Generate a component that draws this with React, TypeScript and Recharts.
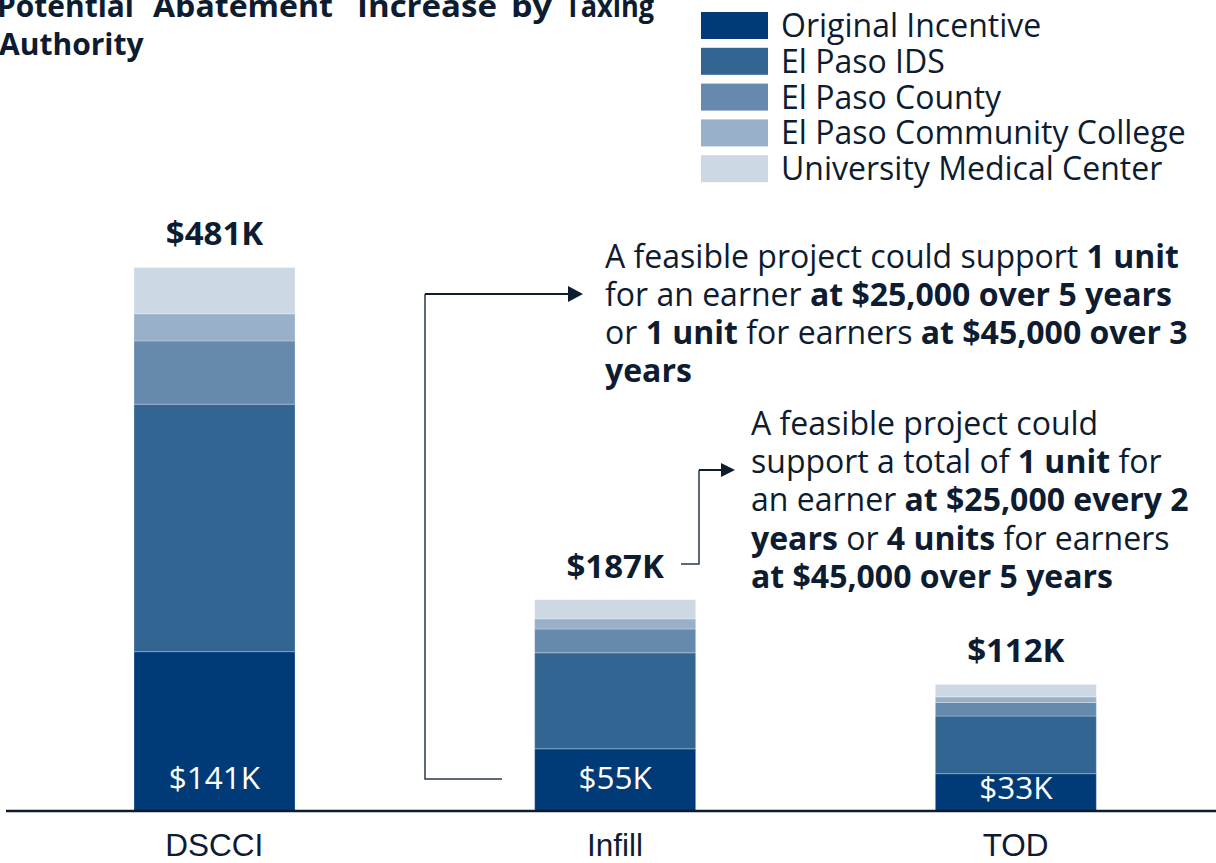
import React from "react";
import { BarChart, Bar, XAxis, YAxis, LabelList } from "recharts";

const categories = ["DSCCI", "Infill", "TOD"];
const originalIncentive = [141, 55, 33];
const elPasoIDS = [219, 85, 51];
const elPasoCounty = [56, 21, 12];
const communityCollege = [24, 9, 5];
const medicalCenter = [41, 17, 11];
const totalLabels = ["$481K", "$187K", "$112K"];
const baseLabels = ["$141K", "$55K", "$33K"];

const seriesNames = [
  "Original Incentive",
  "El Paso IDS",
  "El Paso County",
  "El Paso Community College",
  "University Medical Center",
];
const seriesColors = ["#003b78", "#336593", "#6689ae", "#99b0c9", "#ccd8e4"];

// title words are spread out (justified) in the original
const titleWords = ["Potential", "Abatement", "Increase", "by", "Taxing"];
const titleWordX = [-3, 153, 357, 511, 565];
const titleWordW = [137, 180, 140, 41, 89];

const INK = "#0d1c30";
const FONT = "'Open Sans', sans-serif";

const data = categories.map((name, i) => ({
  name,
  orig: originalIncentive[i],
  ids: elPasoIDS[i],
  county: elPasoCounty[i],
  college: communityCollege[i],
  umc: medicalCenter[i],
  total: totalLabels[i],
  base: baseLabels[i],
}));
const keys = ["orig", "ids", "county", "college", "umc"];

const TotalLabel = (p: any) => {
  const { x, y, width, value } = p;
  return (
    <text x={x + width / 2} y={y - 22} textAnchor="middle" fontFamily={FONT}
      fontWeight={700} fontSize={33} fill={INK}>
      {value}
    </text>
  );
};

const BaseLabel = (p: any) => {
  const { x, y, width, height, value } = p;
  const bottom = y + height;
  const baseline = Math.max(bottom - 22, y + height / 2 + 7);
  return (
    <text x={x + width / 2} y={baseline} textAnchor="middle" fontFamily={FONT}
      fontSize={31.5} fill="#ffffff">
      {value}
    </text>
  );
};

const CategoryTick = (p: any) => (
  <text x={p.x} y={p.y + 37} textAnchor="middle"
    fontFamily="'Liberation Sans', Arial, sans-serif" fontSize={31.5} fill={INK}>
    {p.payload.value}
  </text>
);

function Legend() {
  return (
    <svg width={515} height={190} style={{ position: "absolute", left: 701, top: 0 }}>
      {seriesNames.map((n, i) => {
        const top = 12 + i * 35.8;
        return (
          <g key={n}>
            <rect x={0} y={top} width={67} height={27} fill={seriesColors[i]} />
            <text x={80} y={top + 25} fontFamily={FONT} fontSize={32} fill={INK}>{n}</text>
          </g>
        );
      })}
    </svg>
  );
}

function Notes() {
  const t = { fontFamily: FONT, fontSize: 32, fill: INK } as const;
  return (
    <svg width={1216} height={863} style={{ position: "absolute", left: 0, top: 0, pointerEvents: "none" }}>
      {titleWords.map((w, i) => (
        <text key={w} x={titleWordX[i]} y={17} textLength={titleWordW[i]} lengthAdjust="spacingAndGlyphs"
          fontFamily={FONT} fontWeight={700} fontSize={30} fill={INK}>
          {w}
        </text>
      ))}
      <text x={-1} y={55} fontFamily={FONT} fontWeight={700} fontSize={30} fill={INK}>
        Authority
      </text>

      {/* connector to the DSCCI/Infill note */}
      <path d="M502,779 H425 V294" fill="none" stroke="#2a3a4e" strokeWidth={1.5} />
      <path d="M425,294 H569" fill="none" stroke={INK} strokeWidth={2} />
      <polygon points="568,286 583,294 568,302" fill={INK} />

      {/* connector to the TOD note */}
      <path d="M681,564 H699 V470" fill="none" stroke="#2a3a4e" strokeWidth={1.5} />
      <path d="M699,470 H722" fill="none" stroke={INK} strokeWidth={2} />
      <polygon points="721,463 735,470 721,477" fill={INK} />

      <text {...t} x={605} y={268}>
        A feasible project could support <tspan fontWeight={700}>1 unit</tspan>
      </text>
      <text {...t} x={605} y={306}>
        for an earner <tspan fontWeight={700}>at $25,000 over 5 years</tspan>
      </text>
      <text {...t} x={605} y={344}>
        or <tspan fontWeight={700}>1 unit</tspan> for earners <tspan fontWeight={700}>at $45,000 over 3</tspan>
      </text>
      <text {...t} x={605} y={382} fontWeight={700}>years</text>

      <text {...t} x={751} y={435}>A feasible project could</text>
      <text {...t} x={751} y={473}>
        support a total of <tspan fontWeight={700}>1 unit</tspan> for
      </text>
      <text {...t} x={751} y={511}>
        an earner <tspan fontWeight={700}>at $25,000 every 2</tspan>
      </text>
      <text {...t} x={751} y={550}>
        <tspan fontWeight={700}>years</tspan> or <tspan fontWeight={700}>4 units</tspan> for earners
      </text>
      <text {...t} x={751} y={588} fontWeight={700}>at $45,000 over 5 years</text>
    </svg>
  );
}

export default function App() {
  return (
    <div style={{ position: "absolute", left: 0, top: 0, width: 1216, height: 863, background: "#fff", overflow: "hidden" }}>
      <BarChart width={1216} height={863} data={data}
        margin={{ top: 133, right: 0, left: 6, bottom: 22 }}>
        <XAxis dataKey="name" height={30} tickLine={false} axisLine={{ stroke: INK, strokeWidth: 2.5 }}
          padding={{ left: 8, right: 0 }} tick={<CategoryTick />} interval={0} />
        <YAxis hide domain={[0, 600]} />
        {keys.map((k, i) => (
          <Bar key={k} dataKey={k} stackId="a" fill={seriesColors[i]} barSize={161}
            stroke="#ffffff" strokeOpacity={0.25} strokeWidth={1} isAnimationActive={false}>
            {k === "orig" && <LabelList dataKey="base" content={<BaseLabel />} />}
            {k === "umc" && <LabelList dataKey="total" content={<TotalLabel />} />}
          </Bar>
        ))}
      </BarChart>
      <Legend />
      <Notes />
    </div>
  );
}
